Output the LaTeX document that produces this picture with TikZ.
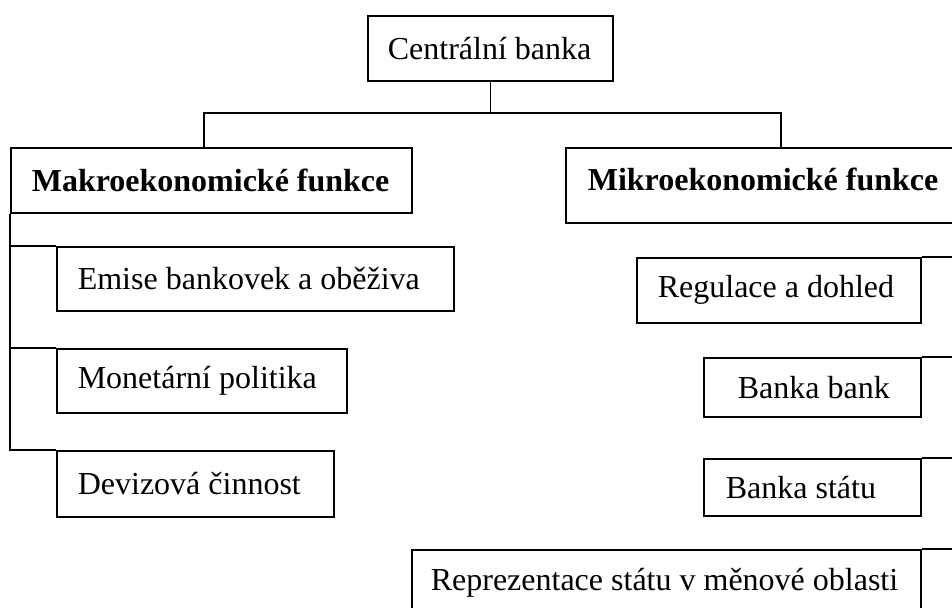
\documentclass[tikz,border=0pt]{standalone}
\usepackage{fontspec}
\setmainfont{Liberation Serif}
\newcommand\boxtext[2]{\makebox[#1][l]{#2}}
\begin{document}
\begin{tikzpicture}[x=0.5pt,y=-0.5pt,
  box/.style={draw,line width=0.8pt,anchor=north west,inner ysep=0pt,
    font=\fontsize{16}{19}\selectfont},
  bbox/.style={box,font=\fontsize{16}{19}\selectfont\bfseries},
  conn/.style={line width=0.8pt}]
\useasboundingbox (0,0) rectangle (952,607);
\clip (0,0) rectangle (952,607);
% boxes: content width = W - 2*pad (pt)
\node[box,minimum height=32.5pt,inner xsep=10pt] (cb) at (367,15) {\boxtext{102.5pt}{Centrální banka}};
\node[bbox,minimum height=32.5pt,inner xsep=10.5pt] (makro) at (10,147) {\boxtext{179.5pt}{Makroekonomické funkce}};
\node[bbox,minimum height=37.5pt,inner xsep=11pt] (mikro) at (565,147) {\raisebox{3pt}[\height][\depth]{\boxtext{193pt}{Mikroekonomické funkce}}};
\node[box,minimum height=32pt,inner xsep=10.5pt] (emise) at (56,246) {\boxtext{177.5pt}{Emise bankovek a oběživa}};
\node[box,minimum height=32pt,inner xsep=10.5pt] (mon) at (56,348) {\boxtext{124pt}{Monetární politika}};
\node[box,minimum height=33pt,inner xsep=10.5pt] (dev) at (56,450) {\boxtext{117.5pt}{Devizová činnost}};
\node[box,minimum height=32.5pt,inner xsep=10.5pt] (reg) at (636,257) {\boxtext{121pt}{Regulace a dohled}};
\node[box,minimum height=29.5pt,inner xsep=17pt] (bb) at (703,357) {\boxtext{74.5pt}{Banka bank}};
\node[box,minimum height=28.5pt,inner xsep=11pt] (bs) at (703,458) {\boxtext{86.5pt}{Banka státu}};
\node[box,minimum height=32.5pt,inner xsep=9.5pt] (rep) at (411,549) {\boxtext{235.5pt}{Reprezentace státu v měnové oblasti}};
% connectors
\coordinate (bus) at (490,113);
\coordinate (mk) at (204,147);
\draw[conn] (cb.south) -- (cb.south |- bus);
\draw[conn] (mk) |- (bus) -| (mikro.north);
\draw[conn] (makro.south west) |- (dev.north west);
\draw[conn] (emise.north west) -- (emise.north west -| makro.south west);
\draw[conn] (mon.north west) -- (mon.north west -| makro.south west);
\draw[conn] (mikro.south east) |- (rep.north east);
\draw[conn] (reg.north east) -- (reg.north east -| mikro.south east);
\draw[conn] (bb.north east) -- (bb.north east -| mikro.south east);
\draw[conn] (bs.north east) -- (bs.north east -| mikro.south east);
\end{tikzpicture}
\end{document}
